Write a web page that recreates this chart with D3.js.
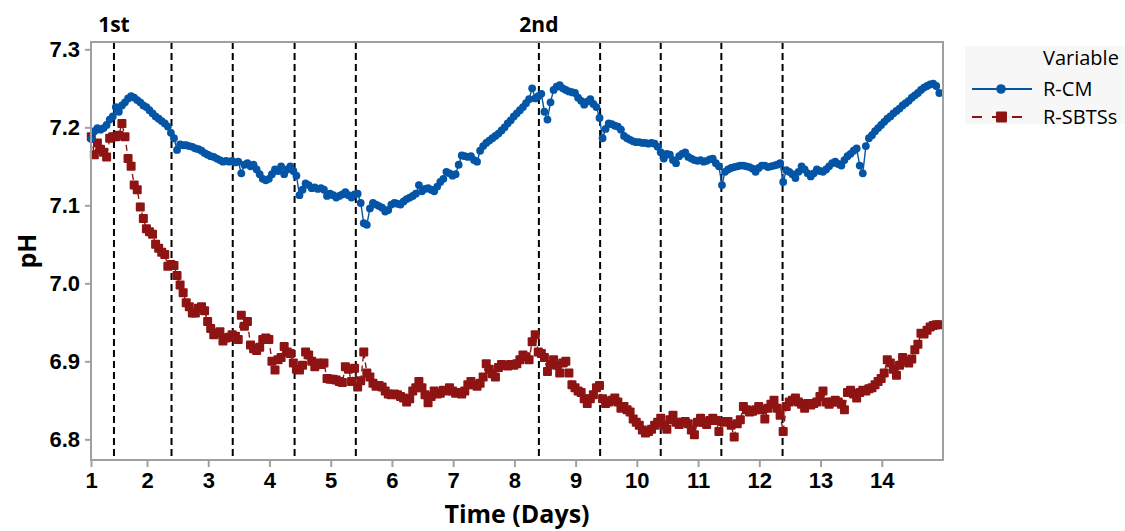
<!DOCTYPE html>
<html>
<head>
<meta charset="utf-8">
<script src="https://cdn.jsdelivr.net/npm/d3@7"></script>
<style>
  html, body { margin: 0; padding: 0; background: #ffffff; }
  svg { display: block; font-family: "Open Sans", "Noto Sans", sans-serif; }
</style>
</head>
<body>
<svg id="chart" width="1125" height="531"></svg>
<script>
// pH readings sampled every 0.05 day, starting at day 1.09
const startDay = 1.09;
const stepDays = 0.05;

const rcm = [
  7.185, 7.195, 7.199, 7.197, 7.199, 7.203, 7.210, 7.214, 7.226, 7.220, 7.228, 7.232, 7.237, 7.240, 7.238, 7.235, 7.232, 7.228, 7.226, 7.222,
  7.218, 7.214, 7.211, 7.208, 7.205, 7.201, 7.193, 7.186, 7.171, 7.178, 7.177, 7.177, 7.176, 7.175, 7.173, 7.172, 7.170, 7.167, 7.165, 7.163,
  7.162, 7.160, 7.158, 7.156, 7.157, 7.156, 7.157, 7.155, 7.156, 7.141, 7.152, 7.154, 7.150, 7.152, 7.146, 7.140, 7.134, 7.132, 7.134, 7.140,
  7.146, 7.144, 7.150, 7.140, 7.146, 7.150, 7.144, 7.138, 7.113, 7.120, 7.128, 7.126, 7.122, 7.123, 7.121, 7.122, 7.120, 7.112, 7.115, 7.113,
  7.110, 7.112, 7.114, 7.117, 7.113, 7.110, 7.114, 7.115, 7.103, 7.077, 7.075, 7.096, 7.103, 7.101, 7.099, 7.097, 7.092, 7.094, 7.101, 7.103,
  7.102, 7.101, 7.105, 7.108, 7.110, 7.112, 7.115, 7.126, 7.118, 7.121, 7.122, 7.120, 7.118, 7.124, 7.130, 7.134, 7.143, 7.141, 7.138, 7.140,
  7.152, 7.164, 7.163, 7.162, 7.163, 7.158, 7.156, 7.170, 7.176, 7.180, 7.183, 7.186, 7.189, 7.192, 7.196, 7.200, 7.205, 7.209, 7.214, 7.218,
  7.222, 7.226, 7.231, 7.236, 7.250, 7.237, 7.240, 7.243, 7.220, 7.210, 7.232, 7.248, 7.252, 7.254, 7.250, 7.248, 7.246, 7.245, 7.244, 7.238,
  7.234, 7.229, 7.233, 7.236, 7.230, 7.226, 7.212, 7.186, 7.198, 7.205, 7.204, 7.202, 7.201, 7.197, 7.189, 7.186, 7.184, 7.182, 7.181, 7.181,
  7.180, 7.180, 7.179, 7.180, 7.179, 7.175, 7.168, 7.160, 7.166, 7.165, 7.158, 7.154, 7.163, 7.166, 7.168, 7.162, 7.160, 7.158, 7.157, 7.158,
  7.156, 7.157, 7.159, 7.160, 7.154, 7.150, 7.126, 7.143, 7.146, 7.148, 7.149, 7.150, 7.151, 7.151, 7.150, 7.149, 7.147, 7.143, 7.148, 7.151,
  7.151, 7.149, 7.150, 7.151, 7.152, 7.154, 7.130, 7.145, 7.143, 7.140, 7.135, 7.143, 7.150, 7.146, 7.141, 7.137, 7.141, 7.146, 7.144, 7.143,
  7.146, 7.150, 7.154, 7.156, 7.153, 7.151, 7.158, 7.163, 7.166, 7.170, 7.173, 7.151, 7.141, 7.176, 7.186, 7.190, 7.195, 7.199, 7.203, 7.207,
  7.211, 7.214, 7.218, 7.221, 7.224, 7.228, 7.231, 7.234, 7.238, 7.241, 7.244, 7.248, 7.251, 7.253, 7.255, 7.256, 7.253, 7.244
];

const rsbtss = [
  7.188, 7.165, 7.180, 7.172, 7.168, 7.162, 7.186, 7.188, 7.188, 7.190, 7.205, 7.188, 7.160, 7.150, 7.126, 7.120, 7.098, 7.083, 7.070, 7.066,
  7.063, 7.050, 7.045, 7.040, 7.037, 7.022, 7.024, 7.023, 7.010, 6.998, 6.988, 6.975, 6.970, 6.962, 6.962, 6.968, 6.970, 6.965, 6.951, 6.942,
  6.934, 6.936, 6.938, 6.926, 6.930, 6.931, 6.934, 6.932, 6.928, 6.959, 6.945, 6.951, 6.921, 6.916, 6.914, 6.918, 6.928, 6.930, 6.928, 6.900,
  6.889, 6.902, 6.905, 6.919, 6.912, 6.910, 6.898, 6.890, 6.889, 6.895, 6.912, 6.908, 6.900, 6.893, 6.898, 6.896, 6.898, 6.878, 6.877, 6.877,
  6.876, 6.874, 6.873, 6.893, 6.890, 6.874, 6.891, 6.867, 6.875, 6.912, 6.885, 6.880, 6.872, 6.868, 6.869, 6.867, 6.862, 6.858, 6.857, 6.858,
  6.857, 6.855, 6.853, 6.848, 6.852, 6.862, 6.866, 6.874, 6.866, 6.857, 6.847, 6.855, 6.862, 6.858, 6.859, 6.863, 6.862, 6.866, 6.862, 6.859,
  6.860, 6.858, 6.862, 6.870, 6.874, 6.870, 6.868, 6.872, 6.880, 6.897, 6.890, 6.884, 6.880, 6.892, 6.896, 6.895, 6.894, 6.896, 6.895, 6.897,
  6.902, 6.908, 6.906, 6.902, 6.925, 6.934, 6.912, 6.910, 6.905, 6.887, 6.896, 6.902, 6.895, 6.885, 6.898, 6.900, 6.885, 6.870, 6.866, 6.862,
  6.860, 6.852, 6.846, 6.852, 6.857, 6.866, 6.869, 6.852, 6.846, 6.848, 6.850, 6.853, 6.848, 6.840, 6.842, 6.838, 6.835, 6.826, 6.822, 6.818,
  6.812, 6.808, 6.810, 6.813, 6.818, 6.822, 6.827, 6.818, 6.813, 6.825, 6.831, 6.822, 6.819, 6.822, 6.823, 6.820, 6.812, 6.806, 6.822, 6.827,
  6.822, 6.819, 6.824, 6.827, 6.824, 6.810, 6.823, 6.822, 6.823, 6.818, 6.803, 6.820, 6.825, 6.842, 6.838, 6.835, 6.836, 6.838, 6.842, 6.838,
  6.826, 6.840, 6.845, 6.850, 6.840, 6.831, 6.810, 6.842, 6.848, 6.850, 6.853, 6.848, 6.845, 6.840, 6.846, 6.844, 6.846, 6.848, 6.855, 6.862,
  6.848, 6.845, 6.848, 6.850, 6.848, 6.845, 6.838, 6.860, 6.863, 6.858, 6.853, 6.860, 6.863, 6.862, 6.865, 6.866, 6.870, 6.874, 6.878, 6.885,
  6.902, 6.898, 6.890, 6.882, 6.895, 6.905, 6.900, 6.898, 6.903, 6.915, 6.922, 6.936, 6.935, 6.940, 6.944, 6.946, 6.947, 6.947
];

// Dosing events (days) marked by dashed vertical lines
const eventDays = [1.46, 2.40, 3.40, 4.41, 5.41, 8.40, 9.40, 10.39, 11.38, 12.38];
const eventLabels = [{ day: 1.46, text: "1st" }, { day: 8.40, text: "2nd" }];

const dayTicks = [1, 2, 3, 4, 5, 6, 7, 8, 9, 10, 11, 12, 13, 14];
const phTicks = [6.8, 6.9, 7.0, 7.1, 7.2, 7.3];

const seriesNames = ["R-CM", "R-SBTSs"];
const seriesColors = ["#0455a6", "#8e1414"];

const svg = d3.select("#chart");
const plotL = 91, plotR = 943, plotT = 42, plotB = 460;
const xMin = 1.085, xMax = 15.0;

const x = d3.scaleLinear().domain([xMin, xMax]).range([plotL, plotR]);
const y = d3.scaleLinear().domain([6.7735, 7.3094]).range([plotB, plotT]);

// plot area
svg.append("rect")
  .attr("x", plotL).attr("y", plotT)
  .attr("width", plotR - plotL).attr("height", plotB - plotT)
  .attr("fill", "#ffffff");

// x axis (first tick sits on the left edge of the frame)
const xAxis = d3.axisBottom(x)
  .tickValues(dayTicks.map(d => Math.max(d, xMin)))
  .tickFormat(d => Math.floor(d))
  .tickSize(7).tickPadding(5);
const gx = svg.append("g").attr("transform", `translate(0,${plotB})`).call(xAxis);
gx.select(".domain").remove();
gx.selectAll(".tick line").attr("stroke", "#a0a0a0").attr("stroke-width", 2);
gx.selectAll(".tick text")
  .attr("fill", "#000").attr("font-size", 22).attr("font-weight", 700);

const yAxis = d3.axisLeft(y)
  .tickValues(phTicks)
  .tickFormat(d3.format(".1f"))
  .tickSize(6).tickPadding(5);
const gy = svg.append("g").attr("transform", `translate(${plotL},0)`).call(yAxis);
gy.select(".domain").remove();
gy.selectAll(".tick line").attr("stroke", "#a0a0a0").attr("stroke-width", 2);
gy.selectAll(".tick text")
  .attr("fill", "#000").attr("font-size", 22).attr("font-weight", 700);

// event reference lines
svg.append("g").selectAll("line")
  .data(eventDays)
  .join("line")
  .attr("x1", d => x(d)).attr("x2", d => x(d))
  .attr("y1", plotT).attr("y2", plotB)
  .attr("stroke", "#000").attr("stroke-width", 2)
  .attr("stroke-dasharray", "7,4");

svg.append("g").selectAll("text")
  .data(eventLabels)
  .join("text")
  .attr("x", d => x(d.day)).attr("y", 32)
  .attr("text-anchor", "middle")
  .attr("font-size", 21).attr("font-weight", 700)
  .text(d => d.text);

// series
const toPoints = vals => vals.map((v, i) => ({ day: startDay + i * stepDays, ph: v }));
const line = d3.line().x(d => x(d.day)).y(d => y(d.ph));

const redPts = toPoints(rsbtss);
const bluePts = toPoints(rcm);

const gRed = svg.append("g");
gRed.append("path").datum(redPts)
  .attr("d", line).attr("fill", "none")
  .attr("stroke", seriesColors[1]).attr("stroke-width", 1.4)
  .attr("stroke-dasharray", "6,4");
gRed.selectAll("rect").data(redPts).join("rect")
  .attr("x", d => x(d.day) - 4.5).attr("y", d => y(d.ph) - 4.5)
  .attr("width", 9).attr("height", 9).attr("rx", 1)
  .attr("fill", seriesColors[1]);

const gBlue = svg.append("g");
gBlue.append("path").datum(bluePts)
  .attr("d", line).attr("fill", "none")
  .attr("stroke", seriesColors[0]).attr("stroke-width", 1.4);
gBlue.selectAll("circle").data(bluePts).join("circle")
  .attr("cx", d => x(d.day)).attr("cy", d => y(d.ph))
  .attr("r", 3.9).attr("fill", seriesColors[0]);

// frame
svg.append("rect")
  .attr("x", plotL).attr("y", plotT)
  .attr("width", plotR - plotL).attr("height", plotB - plotT)
  .attr("fill", "none").attr("stroke", "#a0a0a0").attr("stroke-width", 2);

// axis titles
svg.append("text")
  .attr("x", (plotL + plotR) / 2).attr("y", 523)
  .attr("text-anchor", "middle")
  .attr("font-size", 25).attr("font-weight", 700)
  .text("Time (Days)");
svg.append("text")
  .attr("transform", `translate(36,${(plotT + plotB) / 2}) rotate(-90)`)
  .attr("text-anchor", "middle")
  .attr("font-size", 25).attr("font-weight", 700)
  .text("pH");

// legend
const lg = svg.append("g");
lg.append("rect").attr("x", 965).attr("y", 46).attr("width", 160).attr("height", 78)
  .attr("fill", "#f7f7f7");
lg.append("text").attr("x", 1043).attr("y", 65)
  .attr("font-size", 20).text("Variable");
const rowY = [89, 117];
seriesNames.forEach((name, i) => {
  const yy = rowY[i];
  lg.append("line").attr("x1", 972).attr("x2", 1032).attr("y1", yy).attr("y2", yy)
    .attr("stroke", seriesColors[i]).attr("stroke-width", 2)
    .attr("stroke-dasharray", i === 1 ? "10,10" : null);
  if (i === 0) {
    lg.append("circle").attr("cx", 1001).attr("cy", yy).attr("r", 4.8).attr("fill", seriesColors[i]);
  } else {
    lg.append("rect").attr("x", 996).attr("y", yy - 5.5).attr("width", 11).attr("height", 11)
      .attr("rx", 1).attr("fill", seriesColors[i]);
  }
  lg.append("text").attr("x", 1043).attr("y", yy + 7)
    .attr("font-size", 20).text(name);
});
</script>
</body>
</html>
